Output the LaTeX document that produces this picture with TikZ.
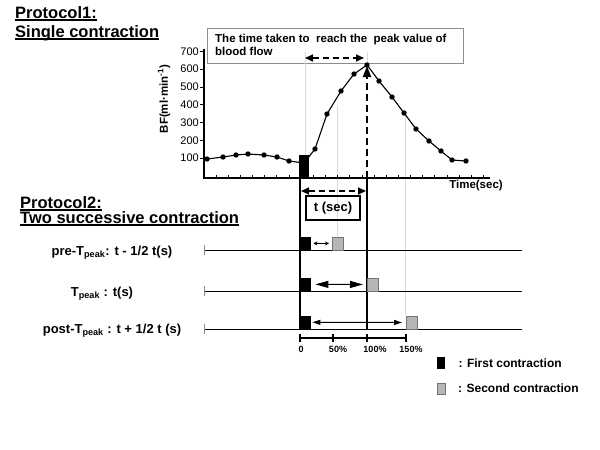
\documentclass[tikz,border=0pt]{standalone}
\usepackage{fontspec}
\setmainfont{Liberation Sans}
\usetikzlibrary{arrows.meta,positioning}
\definecolor{bfgrid}{RGB}{218,218,218}
\definecolor{bfframe}{RGB}{140,140,140}
\definecolor{bfhatch}{RGB}{182,182,182}
\newcommand{\bffont}[1]{\fontsize{#1}{#1}\selectfont\bfseries}
\tikzset{
  bftitle/.style={anchor=base west, inner sep=0pt, font=\bffont{16.5}},
  bfnote/.style={anchor=base west, inner sep=0pt, font=\bffont{11.5}},
  bfrow/.style={anchor=base, inner sep=0pt, font=\bffont{13}},
  bftick/.style={anchor=east, inner sep=0pt, font=\fontsize{11}{11}\selectfont},
  bfpct/.style={anchor=base, inner sep=0pt, font=\bffont{9}},
  bflegend/.style={anchor=west, inner sep=0pt, font=\bffont{12}},
  bffirst/.style={fill=black, inner sep=0pt, minimum width=11pt, minimum height=13pt, anchor=south west},
  bfsecond/.style={fill=bfhatch, draw=black!55, line width=.4pt, inner sep=0pt, minimum width=10.6pt, minimum height=12.6pt, anchor=south west},
  bfdash/.style={{Triangle[length=8pt,width=7pt]}-{Triangle[length=8pt,width=7pt]}, line width=1.6pt, dash pattern=on 6pt off 4pt},
  bfguide/.style={draw=bfgrid, line width=.8pt},
  bfaxis/.style={line width=1.3pt},
  bfrowline/.style={line width=1pt}
}

\begin{document}
\begin{tikzpicture}[x=1pt, y=-1pt]
  \useasboundingbox (0,0) rectangle (600,450);

  \node[bftitle] (p1) at (15,18) {Protocol1:};
  \node[bftitle] (p1b) at (15,37) {Single contraction};
  \node[bftitle] (p2) at (20,208) {Protocol2:};
  \node[bftitle] (p2b) at (20,223) {Two successive contraction};
  \foreach \t in {p1,p1b,p2,p2b}
    \draw[line width=1.3pt] ([yshift=-2pt]\t.base west) -- ([yshift=-2pt]\t.base east);

  \node[draw=bfframe, line width=.8pt, anchor=north west, minimum width=256pt, minimum height=35pt, inner sep=0pt] (note) at (207,28) {};
  \node[bfnote] (note1) at (215,42.5) {The time taken to\ \ reach the\ \ peak value of};
  \node[bfnote] (note2) at (215,55.5) {blood flow};

  \draw[bfguide] (305,52) -- (305,155);
  \draw[bfguide] (367,52) -- (367,65);
  \draw[bfguide] (337,105) -- (337,237);
  \draw[bfguide] (405,113) -- (405,315);

  \draw[bfaxis] (204,49) -- (204,178) -- (490,178);
  \foreach \v in {1,...,7} {
    \draw[line width=1pt] (200,{176-17.8*\v}) -- (204,{176-17.8*\v});
    \node[bftick] (yl\v) at (199,{176-17.8*\v}) {\v00};
  }
  \foreach \k in {1,...,23}
    \draw[line width=.9pt] ({204+12.15*\k},178) -- ({204+12.15*\k},175);
  \node[rotate=90, inner sep=0pt, font=\bffont{11.5}] (ylab) at (164,99) {BF(ml·min\textsuperscript{-1})};
  \node[inner sep=0pt, font=\bffont{11.5}] (tlab) at (476,186) {Time(sec)};

  \draw[line width=1.1pt] plot coordinates {(207,159) (223,157) (236,155) (248,154) (264,155) (277,157) (289,161) (304,163) (315,149) (327,114) (341,91) (354,74) (367,65) (379,81) (392,97) (404,113) (416,129) (429,141) (441,151) (452,160) (466,161)};
  \foreach \p in {(207,159),(223,157),(236,155),(248,154),(264,155),(277,157),(289,161),(315,149),(327,114),(341,91),(354,74),(367,65),(379,81),(392,97),(404,113),(416,129),(429,141),(441,151),(452,160),(466,161)}
    \fill \p circle (2.7);

  \node[bffirst, minimum width=10pt, minimum height=23pt] (bar) at (299,178) {};
  \coordinate (t0) at (300,178);
  \coordinate (t1) at (367,178);
  \coordinate (peak) at (367,66);
  \coordinate (end0) at (300,329);
  \coordinate (end1) at (367,330);
  \draw[line width=1.4pt] (t0) -- (end0);
  \draw[line width=1.4pt] (t1) -- (end1);
  \draw[line width=2pt, dash pattern=on 7pt off 4pt, -{Triangle[length=11pt,width=8pt]}] (t1) -- (peak);

  \coordinate (a0) at (305,58);
  \coordinate (a1) at (364,58);
  \draw[bfdash] (a0) -- (a1);
  \coordinate (b0) at (301,191);
  \coordinate (b1) at (366,191);
  \draw[bfdash] (b0) -- (b1);
  \node[draw, line width=1.5pt, minimum width=54pt, minimum height=24pt, inner sep=0pt, font=\bffont{13}] (tsec) at (333,208) {t (sec)};

  \foreach \y in {250,291,329} {
    \draw[bfrowline] (204,\y) -- (522,\y);
    \draw[line width=.8pt, black!45] (204,\y-5) -- (204,\y+5);
  }
  \node[bfrow] (r1) at (112,255) {pre-T\textsubscript{peak}: t - 1/2 t(s)};
  \node[bfrow] (r2) at (102,296) {T\textsubscript{peak} : t(s)};
  \node[bfrow] (r3) at (112,333) {post-T\textsubscript{peak} : t + 1/2 t (s)};

  \node[bffirst] (f1) at (300,250) {};
  \node[bfsecond] (s1) at (332,250) {};
  \node[bffirst] (f2) at (300,291) {};
  \node[bfsecond] (s2) at (367,291) {};
  \node[bffirst] (f3) at (300,329) {};
  \node[bfsecond] (s3) at (406,329) {};
  \draw[line width=.8pt, {Stealth[length=4pt,width=4pt]}-{Stealth[length=4pt,width=4pt]}, shorten <=2pt, shorten >=3pt] (f1) -- (s1);
  \draw[line width=1pt, {Triangle[length=13pt,width=7pt]}-{Triangle[length=13pt,width=7pt]}, shorten <=4pt, shorten >=4pt] (f2) -- (s2);
  \draw[line width=1pt, {Triangle[length=8pt,width=5pt]}-{Triangle[length=8pt,width=5pt]}, shorten <=1pt, shorten >=4pt] (f3) -- (s3);

  \draw[bfaxis] (300,338) -- (406,338);
  \foreach \x in {300,333,367,406}
    \draw[line width=1.1pt] (\x,334) -- (\x,342);
  \node[bfpct] (q0) at (301,352) {0};
  \node[bfpct] (q50) at (338,352) {50\%};
  \node[bfpct] (q100) at (375,352) {100\%};
  \node[bfpct] (q150) at (411,352) {150\%};

  \node[bffirst, minimum width=8pt, minimum height=12pt] (lf) at (437,369) {};
  \node[bflegend, right=13pt of lf] (lft) {: First contraction};
  \node[bfsecond, minimum width=7.6pt, minimum height=10.6pt] (ls) at (437,394) {};
  \node[bflegend, right=13pt of ls] (lst) {: Second contraction};
\end{tikzpicture}
\end{document}
